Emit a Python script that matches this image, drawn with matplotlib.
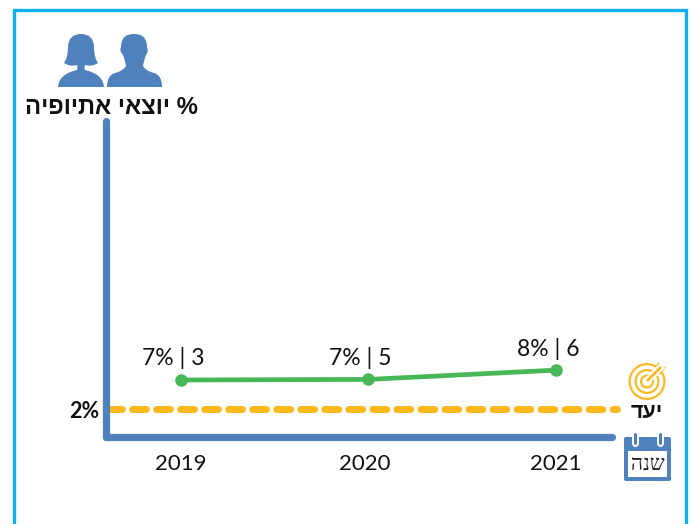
import matplotlib.pyplot as plt
from matplotlib.patches import FancyBboxPatch, PathPatch, Polygon, Rectangle, Wedge
from matplotlib.path import Path
from matplotlib.transforms import ScaledTranslation

plt.rcParams['font.family'] = ['Lato', 'DejaVu Sans']

years = ['2019', '2020', '2021']
share = [7.0, 7.1, 8.7]
share_labels = ['7%', '7%', '8%']
counts = [3, 5, 6]
target = 2
target_label = '2%'
y_title = '% יוצאי אתיופיה'
x_title = 'שנה'
target_title = 'יעד'

BLUE = '#4F81BD'
GREEN = '#47B757'
GOLD = '#FDB81E'
FRAME = '#0FAEEE'
W, H = 691, 524


def heb(s):
    # matplotlib has no bidi, so hebrew goes in visual order
    return s[::-1]


def smooth(points, color):
    # closed outline through quadratic curves, points are (x, y) pixels
    verts = [points[0]]
    codes = [Path.MOVETO]
    for i in range(1, len(points) - 1, 2):
        verts += [points[i], points[i + 1]]
        codes += [Path.CURVE3, Path.CURVE3]
    verts.append(points[0])
    codes.append(Path.CLOSEPOLY)
    return PathPatch(Path(verts, codes), fc=color, ec='none')


fig = plt.figure(figsize=(W / 100, H / 100), dpi=100)

# overlay in pixel coordinates for frame and icons
deco = fig.add_axes([0, 0, 1, 1])
deco.set_xlim(0, W)
deco.set_ylim(H, 0)
deco.axis('off')

deco.plot([14, 14, 686, 686], [H, 9.5, 9.5, H], color=FRAME, lw=2.4, solid_joinstyle='miter')

# man
deco.add_patch(smooth([(134, 34), (147, 34), (147, 47), (149, 51), (146, 55), (144, 60), (143, 66),
                       (146, 71), (154, 73), (162, 75), (162, 87), (134, 87), (107, 87),
                       (107, 75), (115, 73), (123, 71), (126, 66), (125, 60), (123, 55),
                       (119, 51), (121, 47), (121, 34), (134, 34)], BLUE))
# woman
deco.add_patch(smooth([(81, 34), (93, 34), (94, 46), (94, 58), (98, 63), (92, 67), (85, 65),
                       (84, 68), (85, 70), (103, 74), (104, 87), (81, 87), (58, 87),
                       (59, 74), (77, 70), (78, 68), (77, 65), (70, 67), (64, 63),
                       (68, 58), (68, 46), (69, 34), (81, 34)], BLUE))

deco.text(111, 107, heb(y_title), family='Liberation Sans', weight='bold', fontsize=17.2,
          color='#111111', ha='center', va='center')

# target icon
for r, w in [(18.5, 2.2), (12.5, 2.2), (7, 2.2)]:
    deco.add_patch(Wedge((647, 381.5), r, 0, 360, width=w, fc=GOLD, ec='none'))
deco.plot([648, 660], [380, 368], color='white', lw=5)
deco.plot([648, 660], [380, 368], color=GOLD, lw=2)
deco.add_patch(Polygon([(655, 370), (658, 362), (661, 366), (666, 367), (660, 375)], fc=GOLD, ec='none'))
deco.text(647, 412, heb(target_title), family='Liberation Sans', weight='bold', fontsize=15.5,
          color='#111111', ha='center', va='center')

# calendar icon
deco.add_patch(FancyBboxPatch((624, 437), 47, 44, boxstyle='round,pad=0,rounding_size=2', fc=BLUE, ec='none'))
deco.add_patch(Rectangle((628, 451), 39, 26, fc='white', ec='none'))
for x in [635, 660]:
    deco.plot([x, x], [434, 443], color='white', lw=5, solid_capstyle='round')
    deco.plot([x, x], [434, 443], color=BLUE, lw=2.2, solid_capstyle='round')
deco.text(647.5, 465, heb(x_title), family='Liberation Serif', fontsize=15,
          color='#222222', ha='center', va='center')

# data axes
ax = fig.add_axes([106 / W, 1 - 437 / H, (612 - 106) / W, (437 - 121) / H])
ax.patch.set_alpha(0)
ax.set_xlim(-0.4, 2.3)
ax.set_ylim(2 - 28 / 5.8, 2 + 288 / 5.8)

ax.plot([-0.39, 2.325], [target, target], color=GOLD, lw=5, dashes=(2.0, 1.46),
        dash_capstyle='round', clip_on=False, zorder=2)
ax.plot(range(len(years)), share, color=GREEN, lw=3.4, marker='o', ms=8, zorder=3)

for i, (p, c) in enumerate(zip(share_labels, counts)):
    ax.annotate(f'{p} | {c}', (i, share[i]), xytext=(-5.5, 15.5), textcoords='offset points',
                ha='center', va='center', fontsize=16.5, color='#111111')

for side in ['top', 'right']:
    ax.spines[side].set_visible(False)
for side in ['left', 'bottom']:
    ax.spines[side].set_linewidth(5.2)
    ax.spines[side].set_color(BLUE)
    ax.spines[side].set_capstyle('round')

ax.set_xticks(range(len(years)))
ax.set_xticklabels(years, fontsize=16, color='#111111')
ax.set_yticks([target])
ax.set_yticklabels([target_label], fontsize=15.5, fontweight='bold', color='#111111')
ax.tick_params(axis='x', length=0, pad=12)
ax.tick_params(axis='y', length=0, pad=4.5)
# the 2020 label sits a little left of its point in the original
lab = ax.get_xticklabels()[1]
lab.set_transform(lab.get_transform() + ScaledTranslation(-4 / 100, 0, fig.dpi_scale_trans))

plt.savefig('out.png', dpi=100)
